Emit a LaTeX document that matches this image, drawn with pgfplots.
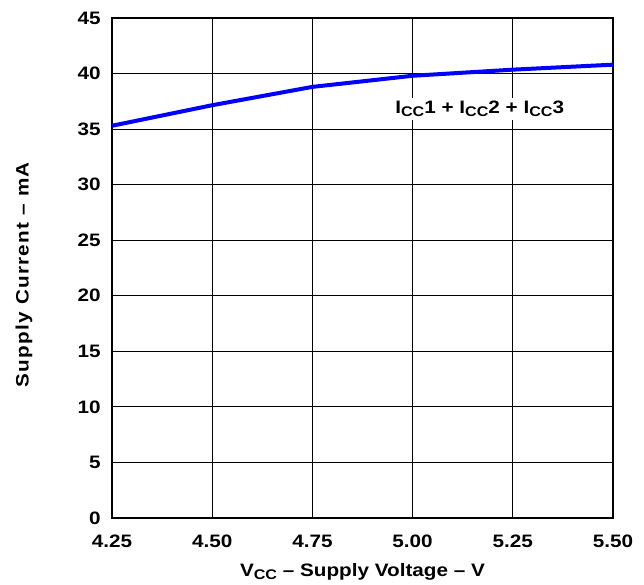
\documentclass[border=0pt]{standalone}
\usepackage{fontspec}
\setmainfont{Liberation Sans}[FakeStretch=1.15]
\newfontfamily\widels{Liberation Sans}[FakeStretch=1.15, LetterSpace=7]
\usepackage{pgfplots}
\pgfplotsset{compat=1.18}
\newcommand{\sub}[1]{\raisebox{-0.35ex}{\fontsize{10.5}{11}\selectfont #1}}
\begin{document}
\begin{tikzpicture}[x=1pt,y=1pt]
\begin{axis}[
  at={(0,0)}, anchor=south west,
  scale only axis,
  width=375.75pt, height=375pt,
  xmin=4.25, xmax=5.5, ymin=0, ymax=45,
  xtick={4.25,4.5,4.75,5,5.25,5.5},
  xticklabels={4.25,4.50,4.75,5.00,5.25,5.50},
  ytick={0,5,...,45},
  grid=major,
  major grid style={black, line width=0.7pt},
  axis line style={black, line width=1.5pt},
  tick style={draw=none},
  font=\fontsize{13.5}{15}\selectfont\bfseries,
  /pgf/number format/assume math mode=true,
  ticklabel style={font=\fontsize{13.5}{15}\selectfont\bfseries},
  xticklabel style={yshift=-9pt},
  yticklabel style={xshift=-5pt},
  xlabel={V\sub{CC} – Supply Voltage – V},
  ylabel={\widels\bfseries Supply Current – mA},
  xlabel style={yshift=-5pt},
  ylabel style={yshift=27pt, xshift=-5pt},
  clip=false,
]
\addplot[blue, line width=3pt] coordinates {
  (4.25,35.3) (4.5,37.15) (4.75,38.8) (5.0,39.8) (5.25,40.35) (5.5,40.8)
};
\node[fill=white, inner sep=2pt, font=\fontsize{13.5}{15}\selectfont\bfseries] at (axis cs:5.1675,36.8) {I\sub{CC}1 + I\sub{CC}2 + I\sub{CC}3};
\end{axis}
\pgfresetboundingbox
\useasboundingbox (-84,-50.25) rectangle (399,375+13.5);
\end{tikzpicture}
\end{document}
